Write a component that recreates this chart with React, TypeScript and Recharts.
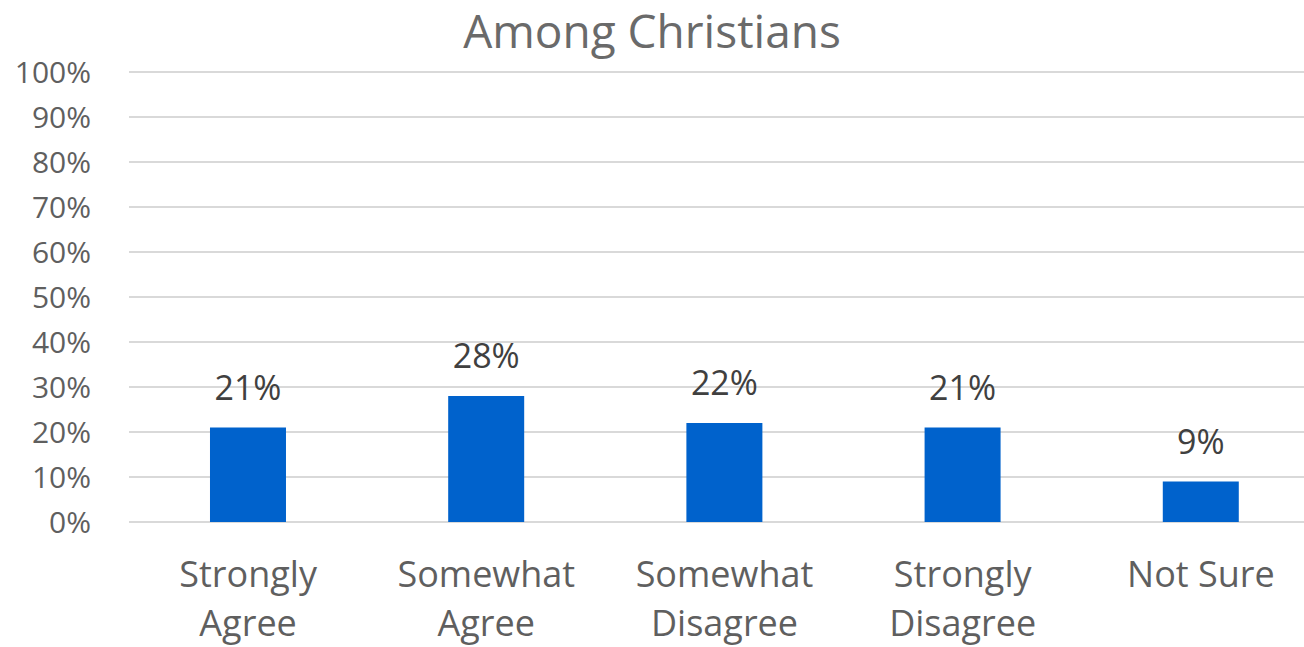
import { BarChart, Bar, XAxis, YAxis, CartesianGrid, LabelList } from "recharts";

const categories = [
  ["Strongly", "Agree"],
  ["Somewhat", "Agree"],
  ["Somewhat", "Disagree"],
  ["Strongly", "Disagree"],
  ["Not Sure"],
];
const shares = [21, 28, 22, 21, 9];
const yTicks = [0, 10, 20, 30, 40, 50, 60, 70, 80, 90, 100];

const data = categories.map((lines, i) => ({
  name: lines.join(" "),
  lines,
  value: shares[i],
}));

const FONT = "'Open Sans', sans-serif";

// two-line category labels under the bars
const CategoryTick = (props: any) => {
  const { x, y, payload, index } = props;
  const lines = data[index]?.lines ?? [payload.value];
  return (
    <text x={x} y={y} textAnchor="middle" fill="#5f5f5f" fontSize={36} fontFamily={FONT}>
      {lines.map((l: string, i: number) => (
        <tspan key={i} x={x} dy={i === 0 ? 57 : 49}>
          {l}
        </tspan>
      ))}
    </text>
  );
};

export default function App() {
  return (
    <div
      style={{
        position: "absolute",
        left: 0,
        top: 0,
        width: 1304,
        height: 647,
        overflow: "hidden",
        background: "#fff",
      }}
    >
      <div
        style={{
          position: "absolute",
          top: 0,
          left: 0,
          width: 1304,
          textAlign: "center",
          fontFamily: FONT,
          fontSize: 46,
          color: "#6a6a6a",
          lineHeight: "60px",
        }}
      >
        Among Christians
      </div>
      <BarChart
        width={1330}
        height={647}
        data={data}
        margin={{ top: 72, right: 10, bottom: 0, left: 0 }}
        barCategoryGap="34%"
      >
        <CartesianGrid vertical={false} stroke="#d9d9d9" strokeWidth={2} />
        <XAxis
          dataKey="name"
          axisLine={false}
          tickLine={false}
          interval={0}
          height={125}
          tick={<CategoryTick />}
        />
        <YAxis
          domain={[0, 100]}
          ticks={yTicks}
          interval={0}
          axisLine={false}
          tickLine={false}
          width={129}
          tickMargin={32}
          tickFormatter={(v: number) => `${v}%`}
          tick={{ fill: "#5f5f5f", fontSize: 30, fontFamily: FONT }}
        />
        <Bar dataKey="value" fill="#0062cc" isAnimationActive={false}>
          <LabelList
            dataKey="value"
            position="top"
            offset={28}
            formatter={(v: number) => `${v}%`}
            style={{ fill: "#404040", fontSize: 34, fontFamily: FONT }}
          />
        </Bar>
      </BarChart>
    </div>
  );
}
